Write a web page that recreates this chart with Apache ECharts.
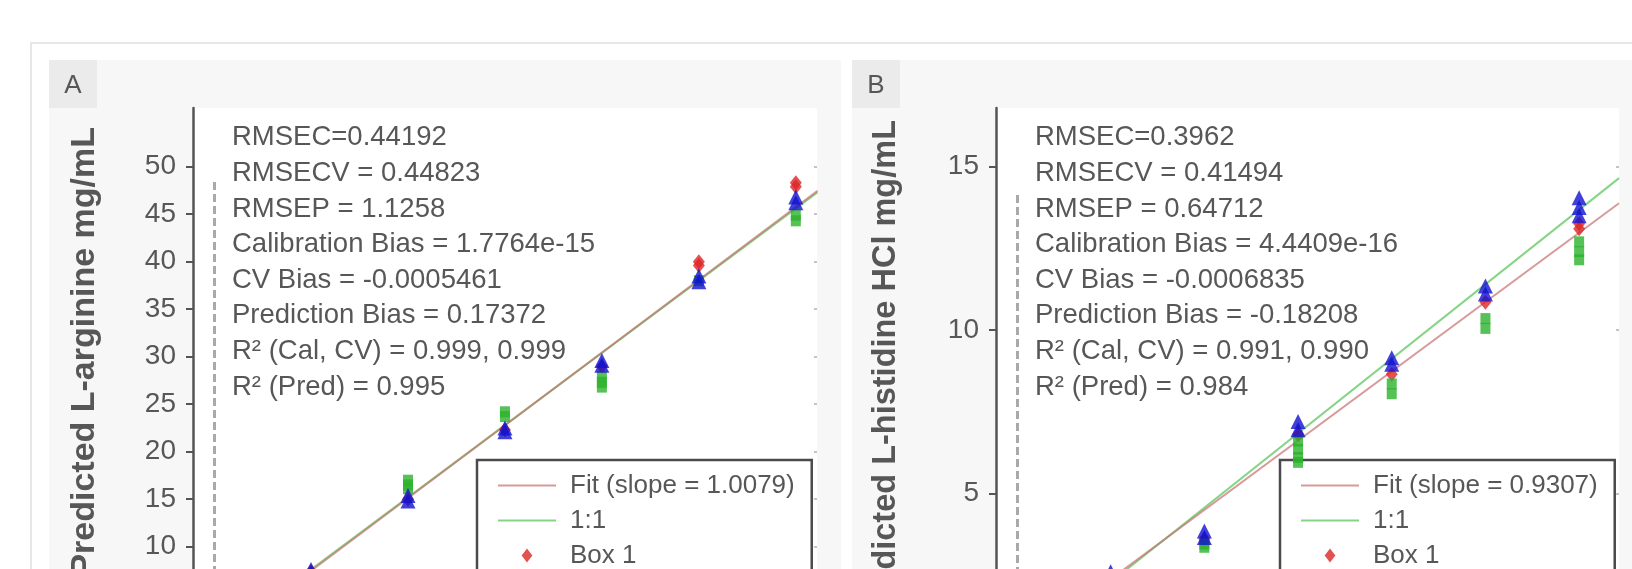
<!DOCTYPE html>
<html><head><meta charset="utf-8">
<script src="https://cdn.jsdelivr.net/npm/echarts@6/dist/echarts.min.js"></script>
<style>html,body{margin:0;padding:0;background:#fff}#c{width:1632px;height:569px}</style>
</head><body><div id="c"></div>
<script>
// ---------- Panel A : L-arginine ----------
const xValuesA = [7.6, 15.2, 22.8, 30.4, 38.0, 45.6];
const box1A = [[7.4], [15.0], [22.3], [29.0], [40.0, 39.6], [48.3, 47.9]];
const box2A = [[7.0, 6.5], [17.0, 16.5, 16.1], [24.2, 23.7], [27.9, 27.3, 26.8], [38.0], [44.9, 44.3]];
const box3A = [[7.6, 7.2], [15.4, 14.8], [22.5, 22.1], [29.6, 29.1], [38.5, 37.9], [46.8, 46.2]];
const fitLineA = [[0, -0.2], [47.3, 47.47]];
const oneToOneA = [[0, 0], [47.3, 47.3]];
const yTicksA = [0, 5, 10, 15, 20, 25, 30, 35, 40, 45, 50];
const rangeA = { xMin: -1.65, xMax: 47.26, yMin: 0, yMax: 56.18 };
const dashTopA = 48.4;
const fitNameA = 'Fit (slope = 1.0079)';
const titleA = 'Predicted L-arginine mg/mL';
const statsA = ['RMSEC=0.44192', 'RMSECV = 0.44823', 'RMSEP = 1.1258', 'Calibration Bias = 1.7764e-15',
  'CV Bias = -0.0005461', 'Prediction Bias = 0.17372', 'R² (Cal, CV) = 0.999, 0.999', 'R² (Pred) = 0.995'];

// ---------- Panel B : L-histidine HCl ----------
const xValuesB = [2.28, 4.56, 6.84, 9.12, 11.4, 13.68];
const box1B = [[2.2], [3.6], [6.8], [8.65], [10.85], [13.25, 13.1]];
const box2B = [[2.0], [3.45, 3.35], [6.6, 6.35, 6.1, 5.95], [8.35, 8.05], [10.35, 10.05], [12.7, 12.4, 12.15]];
const box3B = [[2.6, 2.3], [3.85, 3.65], [7.2, 6.95], [9.15, 8.95], [11.35, 11.1], [14.05, 13.75, 13.5]];
const fitLineB = [[0, 0.25], [14.65, 13.88]];
const oneToOneB = [[0, 0], [14.65, 14.65]];
const yTicksB = [0, 5, 10, 15];
const rangeB = { xMin: -0.51, xMax: 14.65, yMin: 0, yMax: 16.797 };
const dashTopB = 14.13;
const fitNameB = 'Fit (slope = 0.9307)';
const titleB = 'Predicted L-histidine HCl mg/mL';
const statsB = ['RMSEC=0.3962', 'RMSECV = 0.41494', 'RMSEP = 0.64712', 'Calibration Bias = 4.4409e-16',
  'CV Bias = -0.0006835', 'Prediction Bias = -0.18208', 'R² (Cal, CV) = 0.991, 0.990', 'R² (Pred) = 0.984'];

const boxNames = ['Box 1', 'Box 2', 'Box 3'];
const panelLabels = ['A', 'B'];

// ---------- styling ----------
const FONT = '"Liberation Sans", Arial, Helvetica, sans-serif';
const TXT = '#575757';
const AXC = '#555555';
const RED = '#dc2626', GREEN = '#2cb12c', BLUE = '#1212cf';
const ICONS = ['path://M5,0L10,6.5L5,13L0,6.5Z', 'path://M0,0H9V10H0Z', 'path://M6.5,0L13,13H0Z'];

function pts(xs, groups) {
  const out = [];
  groups.forEach((g, i) => g.forEach(v => out.push([xs[i], v])));
  return out;
}

function yAxes(gi, range, ticks) {
  return [{
    gridIndex: gi, type: 'value', min: range.yMin, max: range.yMax, position: 'left',
    axisLine: { show: true, onZero: false, lineStyle: { color: AXC, width: 2.5 } },
    axisTick: { show: true, length: 7, lineStyle: { color: AXC, width: 2 }, customValues: ticks },
    axisLabel: { show: true, customValues: ticks, margin: 17, fontSize: 28, color: TXT, fontFamily: FONT },
    splitLine: { show: false }
  }, {
    gridIndex: gi, type: 'value', min: range.yMin, max: range.yMax, position: 'right',
    axisLine: { show: false, onZero: false },
    axisTick: { show: true, inside: true, length: 3, lineStyle: { color: '#c4c4c4', width: 2 }, customValues: ticks },
    axisLabel: { show: false },
    splitLine: { show: false }
  }];
}

function panelSeries(xi, yi, fitName, fitLine, oneLine, dashTop, xs, b1, b2, b3) {
  return [
    { name: '1:1', type: 'line', xAxisIndex: xi, yAxisIndex: yi, data: oneLine, symbol: 'none', silent: true,
      lineStyle: { color: '#86d486', width: 2 }, z: 2,
      markLine: { silent: true, symbol: ['none', 'none'], label: { show: false },
        lineStyle: { type: [8, 4], color: '#a9a9a9', width: 3 },
        emphasis: { disabled: true },
        data: [[{ coord: [0, dashTop] }, { coord: [0, 0] }]] } },
    { name: fitName, type: 'line', xAxisIndex: xi, yAxisIndex: yi, data: fitLine, symbol: 'none', silent: true,
      lineStyle: { color: '#c66f6f', width: 2, opacity: 0.7 }, z: 3 },
    { name: boxNames[0], type: 'scatter', xAxisIndex: xi, yAxisIndex: yi, data: pts(xs, b1),
      symbol: 'diamond', symbolSize: [12, 15], itemStyle: { color: RED }, z: 4 },
    { name: boxNames[1], type: 'scatter', xAxisIndex: xi, yAxisIndex: yi, data: pts(xs, b2),
      symbol: 'rect', symbolSize: [10, 11], itemStyle: { color: GREEN }, z: 5 },
    { name: boxNames[2], type: 'scatter', xAxisIndex: xi, yAxisIndex: yi, data: pts(xs, b3),
      symbol: 'triangle', symbolSize: [15, 15], itemStyle: { color: BLUE }, z: 6 }
  ];
}

function legend(left, fitName) {
  return {
    orient: 'vertical', left: left, top: 460, height: 320,
    data: [
      { name: fitName, itemStyle: { opacity: 0 } },
      { name: '1:1', itemStyle: { opacity: 0 } }
    ].concat(boxNames.map((n, i) => ({ name: n, icon: ICONS[i] }))),
    itemWidth: 58, itemHeight: 14, itemGap: 0,
    symbolKeepAspect: true,
    padding: [8, 17, 8, 20],
    backgroundColor: '#ffffff', borderColor: '#4a4a4a', borderWidth: 2.5, borderRadius: 0,
    textStyle: { fontSize: 26, fontFamily: FONT, color: TXT, lineHeight: 35, padding: [0, 0, 0, 9] },
    selectedMode: false
  };
}

const chart = echarts.init(document.getElementById('c'), null, { renderer: 'canvas' });

const graphics = [
  { type: 'rect', z: -10, silent: true, shape: { x: 31, y: 43, width: 1700, height: 700 },
    style: { fill: 'none', stroke: '#e7e7e7', lineWidth: 2 } },
  { type: 'rect', z: -9, silent: true, shape: { x: 49, y: 60, width: 792, height: 600 }, style: { fill: '#f7f7f7' } },
  { type: 'rect', z: -9, silent: true, shape: { x: 852, y: 60, width: 900, height: 600 }, style: { fill: '#f7f7f7' } },
  { type: 'rect', z: -8, silent: true, shape: { x: 49, y: 60, width: 48, height: 48 }, style: { fill: '#ebebeb' } },
  { type: 'rect', z: -8, silent: true, shape: { x: 852, y: 60, width: 48, height: 48 }, style: { fill: '#ebebeb' } },
  { type: 'text', z: 10, silent: true, x: 73, y: 86,
    style: { text: panelLabels[0], font: '26px ' + FONT, fill: TXT, align: 'center', verticalAlign: 'middle', textAlign: 'center', textVerticalAlign: 'middle' } },
  { type: 'text', z: 10, silent: true, x: 876, y: 86,
    style: { text: panelLabels[1], font: '26px ' + FONT, fill: TXT, align: 'center', verticalAlign: 'middle', textAlign: 'center', textVerticalAlign: 'middle' } },
  { type: 'text', z: 10, silent: true, x: 232, y: 120,
    style: { text: statsA.join('\n'), font: '27.5px ' + FONT, lineHeight: 35.6, fill: TXT, align: 'left', verticalAlign: 'top', textAlign: 'left', textVerticalAlign: 'top' } },
  { type: 'text', z: 10, silent: true, x: 1035, y: 120,
    style: { text: statsB.join('\n'), font: '27.5px ' + FONT, lineHeight: 35.6, fill: TXT, align: 'left', verticalAlign: 'top', textAlign: 'left', textVerticalAlign: 'top' } },
  { type: 'text', z: 10, silent: true, x: 85, y: 127, rotation: Math.PI / 2,
    style: { text: titleA, font: 'bold 34px ' + FONT, fill: TXT, align: 'right', verticalAlign: 'middle', textAlign: 'right', textVerticalAlign: 'middle' } },
  { type: 'text', z: 10, silent: true, x: 886, y: 120, rotation: Math.PI / 2,
    style: { text: titleB, font: 'bold 32.5px ' + FONT, fill: TXT, align: 'right', verticalAlign: 'middle', textAlign: 'right', textVerticalAlign: 'middle' } }
];

const option = {
  animation: false,
  backgroundColor: '#ffffff',
  textStyle: { fontFamily: FONT },
  graphic: { elements: graphics },
  grid: [
    { left: 193, right: 815, top: 108, bottom: -72.7, show: true, backgroundColor: '#ffffff', borderWidth: 0,
      containLabel: false, outerBoundsMode: 'none' },
    { left: 996, right: 13, top: 108, bottom: -87.7, show: true, backgroundColor: '#ffffff', borderWidth: 0,
      containLabel: false, outerBoundsMode: 'none' }
  ],
  xAxis: [
    { gridIndex: 0, type: 'value', min: rangeA.xMin, max: rangeA.xMax, show: false },
    { gridIndex: 1, type: 'value', min: rangeB.xMin, max: rangeB.xMax, show: false }
  ],
  yAxis: yAxes(0, rangeA, yTicksA).concat(yAxes(1, rangeB, yTicksB)),
  legend: [legend(477, fitNameA), legend(1280, fitNameB)],
  series: panelSeries(0, 0, fitNameA, fitLineA, oneToOneA, dashTopA, xValuesA, box1A, box2A, box3A)
    .concat(panelSeries(1, 2, fitNameB, fitLineB, oneToOneB, dashTopB, xValuesB, box1B, box2B, box3B))
};
chart.setOption(option);
</script></body></html>
